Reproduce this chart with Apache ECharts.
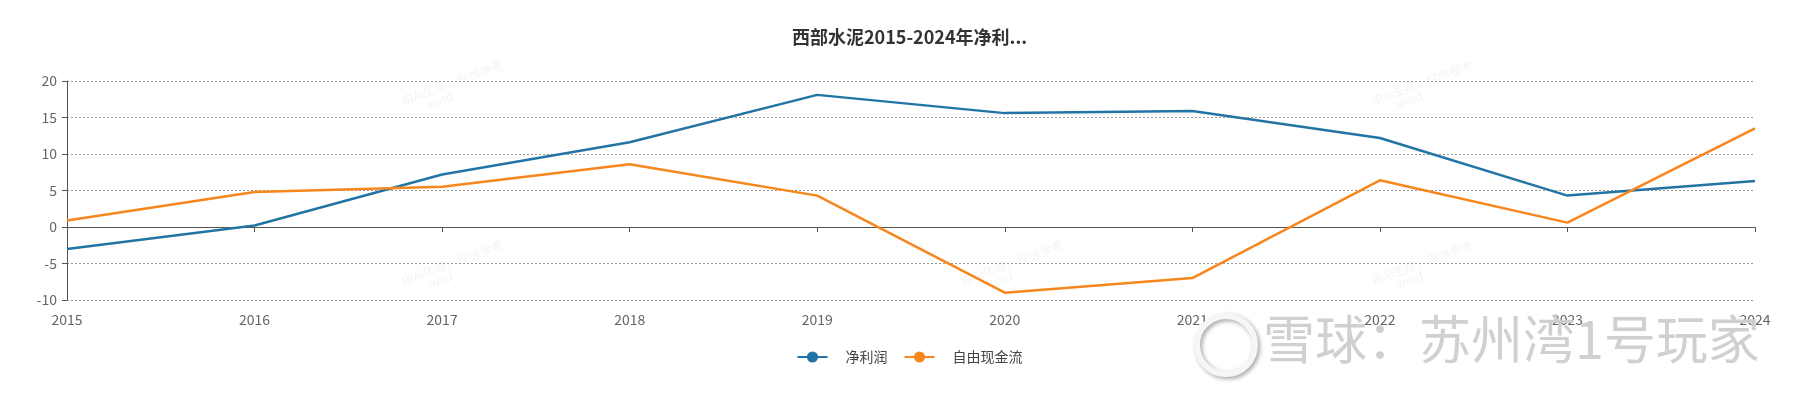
<!DOCTYPE html>
<html>
<head>
<meta charset="utf-8">
<script src="https://cdn.jsdelivr.net/npm/echarts@6/dist/echarts.min.js"></script>
<style>
  html, body { margin: 0; padding: 0; background: #fff; }
  #chart { width: 1819px; height: 399px; }
</style>
</head>
<body>
<div id="chart"></div>
<script>
// data
const years = ['2015', '2016', '2017', '2018', '2019', '2020', '2021', '2022', '2023', '2024'];
const netProfit = [-3.0, 0.2, 7.2, 11.6, 18.1, 15.6, 15.9, 12.2, 4.3, 6.3];
const freeCashFlow = [0.9, 4.8, 5.5, 8.6, 4.3, -9.0, -7.0, 6.4, 0.6, 13.5];
const seriesNames = ['净利润', '自由现金流'];

const FONT = '"Noto Sans CJK SC", "Noto Sans", sans-serif';
const colors = ['#2274a5', '#f7861c'];

const chart = echarts.init(document.getElementById('chart'), null, { renderer: 'canvas' });

// faint wind watermarks
const faint = [];
[[400, 95], [400, 275], [960, 275], [1370, 95], [1370, 275]].forEach(p => {
  faint.push({
    type: 'text', x: p[0], y: p[1], rotation: 0.35, silent: true,
    style: { text: '由AI生成，仅供参考\n        wind', fill: 'rgba(0,0,0,0.05)', font: '12px ' + FONT }
  });
});

const option = {
  animation: false,
  color: colors,
  title: {
    text: '西部水泥2015-2024年净利...',
    left: 'center',
    top: 23,
    textStyle: { fontFamily: FONT, fontSize: 18, fontWeight: 'bold', color: '#333' }
  },
  legend: {
    data: seriesNames,
    left: 'center',
    top: 345,
    itemWidth: 30,
    itemHeight: 14,
    itemGap: 16,
    textStyle: { fontFamily: FONT, fontSize: 14, color: '#444', padding: [0, 0, 0, 13] }
  },
  grid: { left: 67, right: 64, top: 81, bottom: 99, containLabel: false },
  xAxis: {
    type: 'category',
    data: years,
    boundaryGap: false,
    axisLine: { onZero: true, lineStyle: { color: '#555' } },
    axisTick: { show: true, alignWithLabel: true, lineStyle: { color: '#555' } },
    axisLabel: {
      fontFamily: FONT, fontSize: 14, color: '#666', margin: 13,
      formatter: v => v
    },
    splitLine: { show: false }
  },
  yAxis: {
    type: 'value',
    min: -10,
    max: 20,
    interval: 5,
    axisLine: { show: true, lineStyle: { color: '#555' } },
    axisTick: { show: true, lineStyle: { color: '#555' } },
    axisLabel: { fontFamily: FONT, fontSize: 14, color: '#666', margin: 10 },
    splitLine: { show: true, lineStyle: { color: '#999', type: [2, 2] } }
  },
  series: [
    {
      name: seriesNames[0],
      type: 'line',
      data: netProfit,
      symbol: 'circle',
      symbolSize: 14,
      showSymbol: false,
      lineStyle: { width: 2.5, color: colors[0] }
    },
    {
      name: seriesNames[1],
      type: 'line',
      data: freeCashFlow,
      symbol: 'circle',
      symbolSize: 14,
      showSymbol: false,
      lineStyle: { width: 2.5, color: colors[1] }
    }
  ],
  graphic: faint.concat([
    {
      type: 'circle', left: 1194, top: 313, silent: true, z: 100,
      shape: { r: 29 },
      style: {
        fill: 'none', stroke: '#f6f6f6', lineWidth: 6,
        shadowColor: 'rgba(0,0,0,0.35)', shadowBlur: 4, shadowOffsetX: 2, shadowOffsetY: 2
      }
    },
    {
      type: 'text', left: 1263, top: 313, silent: true, z: 100,
      style: {
        text: '雪球：苏州湾1号玩家',
        fill: 'rgba(205,205,205,0.95)',
        font: '52px ' + FONT,
        shadowColor: 'rgba(0,0,0,0.3)',
        shadowBlur: 3,
        shadowOffsetX: 2,
        shadowOffsetY: 2
      }
    }
  ])
};

chart.setOption(option);
</script>
</body>
</html>
